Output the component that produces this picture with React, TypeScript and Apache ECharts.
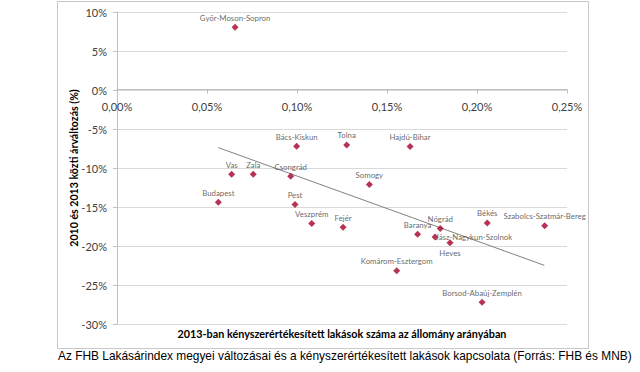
import React, { useEffect, useRef } from "react";
import * as echarts from "echarts";

const counties = [
  "Győr-Moson-Sopron", "Bács-Kiskun", "Vas", "Zala", "Csongrád", "Tolna", "Hajdú-Bihar",
  "Somogy", "Budapest", "Pest", "Veszprém", "Fejér", "Baranya", "Nógrád",
  "Jász-Nagykun-Szolnok", "Heves", "Békés", "Szabolcs-Szatmár-Bereg",
  "Komárom-Esztergom", "Borsod-Abaúj-Zemplén",
];
// share of forced sales in 2013 (% of stock)
const forcedSales = [
  0.0656, 0.0998, 0.0637, 0.0757, 0.0965, 0.1276, 0.1628,
  0.1402, 0.0563, 0.0989, 0.1082, 0.1256, 0.1670, 0.1796,
  0.1767, 0.1850, 0.2057, 0.2376,
  0.1554, 0.2028,
];
// price change 2010-2013 (%)
const priceChange = [
  8.08, -7.18, -10.77, -10.77, -11.03, -7.0, -7.22,
  -12.09, -14.36, -14.65, -17.09, -17.56, -18.46, -17.73,
  -18.8, -19.53, -17.0, -17.38,
  -23.12, -27.18,
];
const trendX = [0.0563, 0.2374];
const trendY = [-7.35, -22.44];

const labelPos: Record<string, { position: string; distance: number }> = {
  "Jász-Nagykun-Szolnok": { position: "right", distance: -3 },
  Heves: { position: "bottom", distance: 3 },
};

const xTitle = "2013-ban kényszerértékesített lakások száma az állomány arányában";
const yTitle = "2010 és 2013 közti árváltozás (%)";
const caption =
  "Az FHB Lakásárindex megyei változásai és a kényszerértékesített lakások kapcsolata (Forrás: FHB és MNB)";

export default function App() {
  const ref = useRef<HTMLDivElement>(null);
  useEffect(() => {
    if (!ref.current) return;
    const chart = echarts.init(ref.current, undefined, { renderer: "svg" });
    const font = "Lato, 'Open Sans', sans-serif";
    const labelColor = "#404040";
    const data = counties.map((name, i) => {
      const p = labelPos[name] || { position: "top", distance: 2 };
      return {
        name,
        value: [forcedSales[i], priceChange[i]],
        label: {
          show: true,
          position: p.position,
          distance: p.distance,
          color: labelColor,
          fontFamily: font,
          fontSize: 7.8,
          formatter: "{b}",
        },
      };
    });
    const xFmt = (v: number) => v.toFixed(2).replace(".", ",") + "%";
    chart.setOption({
      animation: false,
      backgroundColor: "#ffffff",
      grid: [
        { left: 117, top: 12.3, width: 450, height: 312 },
        { left: 117, top: 12.3, width: 450, height: 77.4 },
      ],
      xAxis: [
        {
          type: "value",
          gridIndex: 0,
          min: 0,
          max: 0.25,
          interval: 0.05,
          axisLine: { show: false },
          axisTick: { show: false },
          axisLabel: { show: false },
          splitLine: { show: false },
        },
        {
          type: "value",
          gridIndex: 1,
          position: "bottom",
          min: 0,
          max: 0.25,
          interval: 0.05,
          axisLine: { show: true, onZero: false, lineStyle: { color: "#bfbfbf", width: 1 } },
          axisTick: { show: true, length: 4, inside: false, lineStyle: { color: "#bfbfbf" } },
          splitLine: { show: false },
          axisLabel: {
            color: labelColor,
            fontFamily: font,
            fontSize: 11,
            margin: 11,
            formatter: xFmt,
          },
        },
      ],
      yAxis: [
        {
          type: "value",
          gridIndex: 0,
          min: -30,
          max: 10,
          interval: 5,
          axisLine: { show: true, onZero: false, lineStyle: { color: "#bfbfbf", width: 1 } },
          axisTick: { show: true, length: 4, lineStyle: { color: "#bfbfbf" } },
          splitLine: { show: true, lineStyle: { color: "#d9d9d9", width: 1 } },
          axisLabel: {
            color: labelColor,
            fontFamily: font,
            fontSize: 11,
            margin: 10,
            formatter: (v: number) => v + "%",
          },
        },
        {
          type: "value",
          gridIndex: 1,
          min: 0,
          max: 1,
          show: false,
        },
      ],
      series: [
        {
          type: "line",
          xAxisIndex: 0,
          yAxisIndex: 0,
          data: trendX.map((x, i) => [x, trendY[i]]),
          symbol: "none",
          lineStyle: { color: "#808080", width: 1 },
          silent: true,
          z: 1,
        },
        {
          type: "scatter",
          xAxisIndex: 0,
          yAxisIndex: 0,
          data,
          symbol: "diamond",
          symbolSize: 7,
          itemStyle: { color: "#a5002c" },
          label: {
            show: true,
            formatter: "{b}",
            color: labelColor,
            fontFamily: font,
            fontSize: 7.8,
          },
          z: 3,
        },
      ],
      graphic: [
        {
          type: "rect",
          shape: { x: 57.5, y: 1.5, width: 531, height: 347 },
          style: { fill: "none", stroke: "#c8c8c8", lineWidth: 1 },
          z: -1,
        },
        {
          type: "text",
          x: 342,
          y: 333.5,
          style: {
            text: xTitle,
            fill: "#000000",
            font: `bold 10.8px ${font}`,
            align: "center",
            verticalAlign: "middle",
          },
        },
        {
          type: "text",
          x: 74,
          y: 168,
          rotation: Math.PI / 2,
          style: {
            text: yTitle,
            fill: "#000000",
            font: `bold 10.6px ${font}`,
            align: "center",
            verticalAlign: "middle",
          },
        },
        {
          type: "text",
          x: 58,
          y: 356,
          style: {
            text: caption,
            fill: "#000000",
            font: "11.9px 'Liberation Sans', Arial, sans-serif",
            align: "left",
            verticalAlign: "middle",
          },
        },
      ],
    });
    return () => chart.dispose();
  }, []);
  return (
    <div
      ref={ref}
      style={{ position: "fixed", left: 0, top: 0, width: 640, height: 372 }}
    />
  );
}
